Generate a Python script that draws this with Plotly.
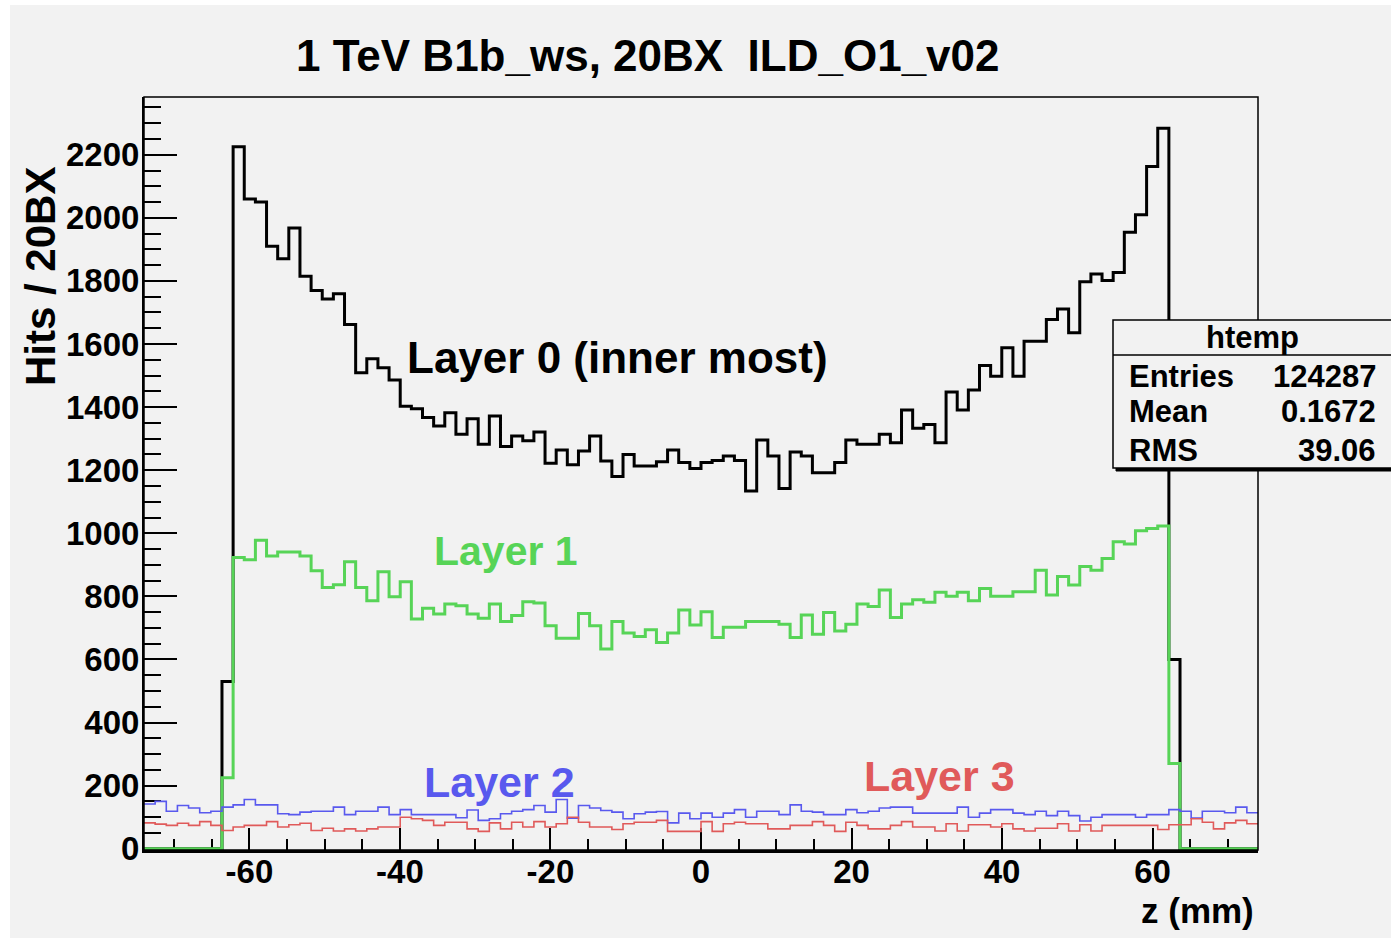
import numpy as np
import plotly.graph_objects as go

# ---------------- data ----------------
z_min, z_max, n_bins = -74.0, 74.0, 100

layer0_counts = [0]*7 + [530] + [
    2225, 2060, 2050, 1910, 1870, 1968, 1815, 1770, 1743, 1759,
    1662, 1509, 1553, 1525, 1486, 1403, 1395, 1367, 1340, 1382,
    1314, 1363, 1282, 1372, 1275, 1308, 1293, 1321, 1222, 1264,
    1217, 1261, 1308, 1229, 1180, 1250, 1213, 1213, 1227, 1264,
    1224, 1205, 1224, 1231, 1245, 1231, 1134, 1296, 1245, 1142,
    1258, 1245, 1192, 1192, 1224, 1296, 1282, 1282, 1314, 1287,
    1391, 1333, 1345, 1287, 1448, 1391, 1454, 1532, 1498, 1588,
    1498, 1609, 1609, 1678, 1711, 1636, 1797, 1822, 1801, 1827,
    1954, 2010, 2163, 2284] + [600] + [0]*7

layer1_counts = [0]*7 + [225] + [
    923, 916, 978, 928, 941, 941, 928, 881, 828, 837,
    910, 828, 786, 878, 799, 846, 728, 762, 744, 776,
    770, 744, 731, 776, 720, 739, 783, 779, 707, 667,
    667, 746, 707, 633, 720, 684, 673, 694, 654, 684,
    757, 709, 751, 670, 702, 702, 720, 720, 720, 712,
    670, 741, 680, 749, 690, 712, 776, 768, 820, 733,
    776, 789, 781, 813, 800, 813, 786, 825, 800, 800,
    815, 815, 883, 804, 863, 836, 895, 883, 920, 973,
    966, 1008, 1015, 1023] + [270] + [0]*7

layer2_counts = [
    142, 150, 119, 137, 129, 114, 119, 132, 139, 156,
    139, 139, 111, 108, 116, 119, 119, 132, 108, 119,
    119, 132, 108, 124, 108, 108, 108, 108, 98, 123,
    90, 95, 111, 119, 124, 137, 116, 156, 97, 137,
    129, 121, 116, 95, 111, 116, 118, 82, 113, 95,
    113, 100, 113, 124, 100, 119, 119, 108, 139, 119,
    116, 108, 108, 124, 114, 119, 129, 132, 132, 113,
    113, 113, 113, 132, 100, 113, 124, 124, 113, 108,
    119, 105, 119, 105, 88, 100, 108, 108, 108, 100,
    108, 108, 124, 119, 97, 119, 119, 114, 132, 114]

layer3_counts = [
    82, 78, 74, 81, 74, 86, 74, 58, 69, 74,
    74, 86, 69, 76, 81, 58, 65, 56, 63, 56,
    63, 69, 69, 100, 95, 90, 74, 84, 84, 63,
    55, 82, 63, 84, 69, 86, 69, 79, 100, 84,
    69, 69, 61, 79, 84, 84, 90, 55, 55, 55,
    86, 55, 79, 84, 79, 79, 63, 63, 74, 74,
    86, 74, 55, 84, 74, 63, 63, 74, 86, 69,
    69, 56, 79, 56, 76, 76, 69, 79, 63, 56,
    65, 65, 79, 56, 76, 56, 74, 74, 74, 74,
    74, 61, 76, 76, 95, 84, 63, 82, 90, 79]

x_ticks = [-60, -40, -20, 0, 20, 40, 60]
y_ticks = [0, 200, 400, 600, 800, 1000, 1200, 1400, 1600, 1800, 2000, 2200]

stats_labels = ["Entries", "Mean", "RMS"]
stats_values = ["124287", "0.1672", "39.06"]

# ---------------- layout geometry ----------------
W, H = 1391, 941
L, R, T, B = 144, 133, 97, 91
PW, PH = W - L - R, H - T - B


def px(xp):
    return (xp - L) / PW


def py(yp):
    return (H - B - yp) / PH


FONT = "Liberation Sans, Arial, Helvetica, sans-serif"
BG = "#f2f2f2"
C_BLACK = "#000000"
C_GREEN = "#57d457"
C_BLUE = "#5959ee"
C_RED = "#e05a5a"

edges = np.linspace(z_min, z_max, n_bins + 1)

fig = go.Figure()


def add_hist(counts, color, width):
    y = list(counts) + [counts[-1]]
    fig.add_trace(go.Scatter(x=edges, y=y, mode="lines", line_shape="hv",
                             line=dict(color=color, width=width),
                             hoverinfo="skip", showlegend=False))


add_hist(layer0_counts, C_BLACK, 3)
add_hist(layer1_counts, C_GREEN, 3)
add_hist(layer2_counts, C_BLUE, 1.6)
add_hist(layer3_counts, C_RED, 1.6)

fig.update_layout(
    width=W, height=H,
    margin=dict(l=L, r=R, t=T, b=B, pad=0),
    paper_bgcolor=BG, plot_bgcolor=BG,
    font=dict(family=FONT, color="black"),
    showlegend=False,
)

fig.update_xaxes(
    range=[z_min, z_max], tickmode="array", tickvals=x_ticks,
    ticktext=[str(v) for v in x_ticks],
    ticks="inside", ticklen=22, tickwidth=2, tickcolor="black",
    minor=dict(dtick=5, tick0=0, ticks="inside", ticklen=11, tickwidth=2, tickcolor="black"),
    showgrid=False, zeroline=False, showline=True, linecolor="black", linewidth=3,
    tickfont=dict(size=33, family=FONT, weight="bold"),
    ticklabelstandoff=-10,
    layer="below traces",
)
fig.update_yaxes(
    range=[-4, 2383], tickmode="array", tickvals=y_ticks,
    ticktext=[str(v) for v in y_ticks],
    ticks="inside", ticklen=33, tickwidth=2, tickcolor="black",
    minor=dict(dtick=50, tick0=0, ticks="inside", ticklen=17, tickwidth=2, tickcolor="black"),
    showgrid=False, zeroline=False, showline=True, linecolor="black", linewidth=2,
    tickfont=dict(size=33, family=FONT, weight="bold"),
    ticklabelstandoff=-4,
    layer="below traces",
)

shapes = [
    # white page border around the gray canvas
    dict(type="rect", xref="paper", yref="paper", x0=px(-5), x1=px(10), y0=py(950), y1=py(-5),
         line=dict(width=0), fillcolor="white", layer="above"),
    dict(type="rect", xref="paper", yref="paper", x0=px(-5), x1=px(1400), y0=py(5), y1=py(-5),
         line=dict(width=0), fillcolor="white", layer="above"),
    dict(type="rect", xref="paper", yref="paper", x0=px(-5), x1=px(1400), y0=py(950), y1=py(938),
         line=dict(width=0), fillcolor="white", layer="above"),
    # frame
    dict(type="rect", xref="paper", yref="paper", x0=0, x1=1, y0=0, y1=1,
         line=dict(color="black", width=1.5), fillcolor="rgba(0,0,0,0)", layer="above"),
    # stats box shadow
    dict(type="rect", xref="paper", yref="paper", x0=px(1116), x1=px(1400), y0=py(471), y1=py(323),
         line=dict(color="black", width=1), fillcolor="black", layer="above"),
    # stats box
    dict(type="rect", xref="paper", yref="paper", x0=px(1113), x1=px(1398), y0=py(468), y1=py(320),
         line=dict(color="black", width=1.5), fillcolor=BG, layer="above"),
    dict(type="line", xref="paper", yref="paper", x0=px(1113), x1=px(1398), y0=py(355), y1=py(355),
         line=dict(color="black", width=1.5), layer="above"),
]
fig.update_layout(shapes=shapes)

ann = []


def text(x, y, s, size, color="black", xanchor="left", yanchor="middle", angle=0):
    ann.append(dict(xref="paper", yref="paper", x=x, y=y, text=s, showarrow=False,
                    xanchor=xanchor, yanchor=yanchor, textangle=angle,
                    font=dict(family=FONT, size=size, color=color, weight="bold")))


text(px(648), py(55), "1 TeV B1b_ws, 20BX \u00a0ILD_O1_v02", 44, xanchor="center")
text(px(40), py(277), "Hits / 20BX", 42, xanchor="center", angle=-90)
text(px(1256), py(910), "z (mm)", 35, xanchor="right")

text(px(405), py(357), "Layer 0 (inner most)", 44, C_BLACK)
text(px(432), py(551), "Layer 1", 41, C_GREEN)
text(px(422), py(782), "Layer 2", 43, C_BLUE)
text(px(862), py(776), "Layer 3", 43, C_RED)

text(px(1252), py(337), "htemp", 31, xanchor="center")
for i, (lab, val) in enumerate(zip(stats_labels, stats_values)):
    yy = [376, 412, 450][i]
    text(px(1127), py(yy), lab, 31)
    text(px(1378), py(yy), val, 31, xanchor="right")

fig.update_layout(annotations=ann)

fig.write_html("out.html", config={"displayModeBar": False},
               post_script="document.body.style.margin='0';")
